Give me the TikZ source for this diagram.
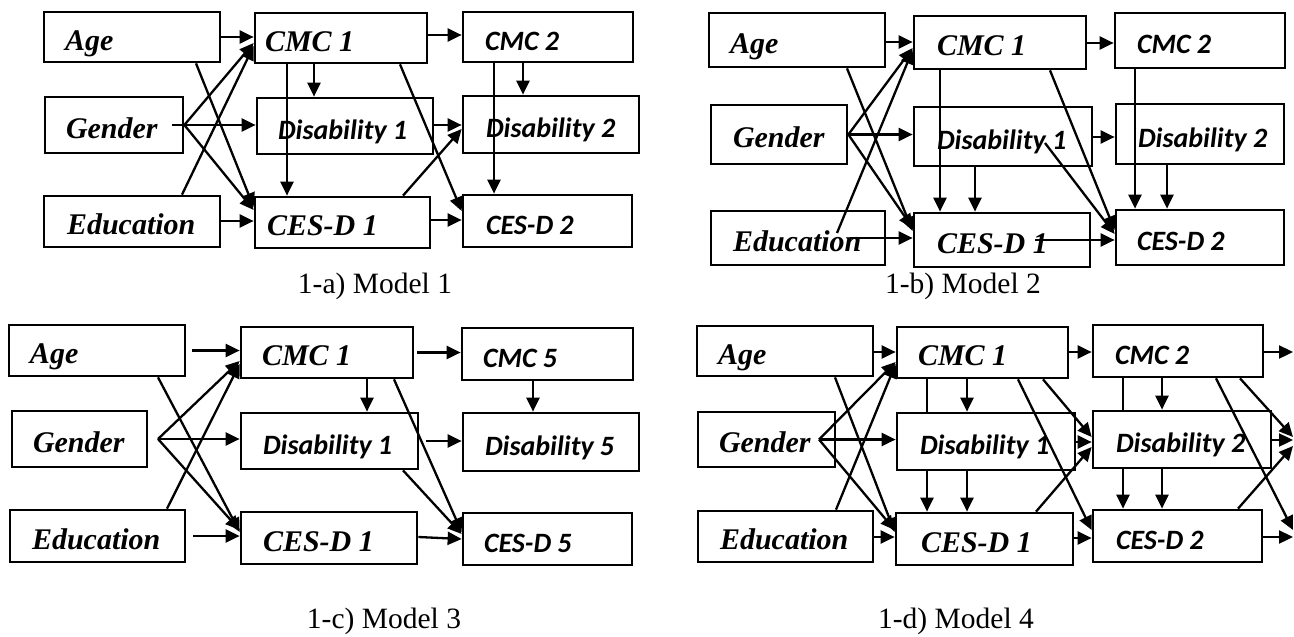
\documentclass[tikz,border=0pt]{standalone}
\usepackage{fontspec}
\usetikzlibrary{arrows.meta,calc}
\newfontfamily\calfont{Carlito}
\newfontfamily\capfont{Liberation Serif}
\newcommand\sfx{\calfont\bfseries\itshape\fontsize{28}{30}\selectfont}
\newcommand\srx{\capfont\bfseries\itshape\fontsize{30}{32}\selectfont}
\pgfdeclarelayer{bg}
\pgfsetlayers{bg,main}
\tikzset{
  box/.style={draw, line width=2.7pt, fill=white, rectangle, inner ysep=0pt,
    text height=26pt, text depth=0pt},
  arr/.style={line width=2.3pt, -{Triangle[length=14pt,width=13pt]}},
  captext/.style={font=\capfont\fontsize{29.5}{32}\selectfont, inner sep=0pt},
}
% name, x1, y1, x2, y2, inset, font, text
\newcommand\bx[8]{%
  \pgfmathsetmacro\bxw{#4-#2}%
  \pgfmathsetmacro\bxh{#5-#3}%
  \pgfmathsetmacro\bxt{#4-#2-2*#6}%
  \pgfmathsetmacro\bxcx{(#2+#4)/2}%
  \pgfmathsetmacro\bxcy{(#3+#5)/2}%
  \node[box, minimum width=\bxw pt, minimum height=\bxh pt, inner xsep=#6pt]
    (#1) at (\bxcx,\bxcy) {\makebox[\bxt pt][l]{#7#8}};}
\begin{document}
\begin{tikzpicture}[x=1pt,y=-1pt]
\useasboundingbox (0,0) rectangle (1294,637);
% ---------------- panel a
\bx{aAge}{44}{12}{220}{62}{21}{\srx}{Age}
\bx{aGen}{45}{97}{183}{153}{21}{\srx}{Gender}
\bx{aEdu}{44}{196}{220}{247}{23}{\srx}{Education}
\bx{aC1}{255}{13}{427}{63}{10}{\srx}{CMC 1}
\bx{aD1}{257}{98}{433}{154}{21}{\sfx}{Disability 1}
\bx{aE1}{255}{197}{430}{248}{12}{\srx}{CES-D 1}
\bx{aC2}{463}{12}{633}{62}{22}{\sfx}{CMC 2}
\bx{aD2}{463}{96}{639}{153}{23}{\sfx}{Disability 2}
\bx{aE2}{463}{195}{632}{247}{23}{\sfx}{CES-D 2}
\draw[arr] (aAge.east) -- (aAge.east -| aC1.west);
\draw[arr] (aGen.east) -- (aC1.west |- 0,43);
\draw[arr] (aGen.east -| 172,0) -- (aGen.east -| aD1.west);
\draw[arr] (aGen.east) -- (aE1.west |- 0,210);
\draw[arr] (aAge.south -| 196,0) -- (aE1.west |- 0,207);
\draw[arr] (aEdu.north -| 182,0) -- (aC1.west |- 0,46);
\draw[arr] (aEdu.east |- 0,221) -- (aE1.west |- 0,221);
\draw[arr] (aC1.east |- 0,35) -- (aC2.west |- 0,35);
\draw[arr] (aC1.south -| 314,0) -- (aD1.north -| 314,0);
\draw[arr] (aC1.south -| 287,0) -- (aE1.north -| 287,0);
\draw[arr] (aD1.east |- 0,125) -- (aD2.west |- 0,125);
\draw[arr] (aE1.north -| 403,0) -- (aD2.west |- 0,129);
\draw[arr] (aC1.south -| 400,0) -- (aE2.west |- 0,211);
\draw[arr] (aC2.south -| 523,0) -- (aD2.north -| 523,0);
\draw[arr] (aC2.south -| 494,0) -- (aE2.north -| 494,0);
\draw[arr] (aE1.east |- 0,220) -- (aE2.west |- 0,220);
\node[captext] (capA) at (375,286) {1-a) Model 1};
% ---------------- panel b
\bx{bAge}{709}{13}{885}{67}{21}{\srx}{Age}
\bx{bGen}{711}{105}{847}{164}{22}{\srx}{Gender}
\bx{bEdu}{711}{211}{885}{265}{22}{\srx}{Education}
\bx{bC1}{914}{16}{1086}{69}{23}{\srx}{CMC 1}
\bx{bD1}{914}{107}{1092}{166}{23}{\sfx}{Disability 1}
\bx{bE1}{914}{213}{1090}{267}{23}{\srx}{CES-D 1}
\bx{bC2}{1115}{13}{1285}{68}{22}{\sfx}{CMC 2}
\bx{bD2}{1116}{104}{1284}{164}{22}{\sfx}{Disability 2}
\bx{bE2}{1116}{210}{1284}{265}{21}{\sfx}{CES-D 2}
\draw[arr] (bAge.east |- 0,42) -- (bC1.west |- 0,42);
\draw[arr] (bGen.east) -- (bC1.west |- 0,48);
\draw[arr] (bGen.east) -- (bGen.east -| bD1.west);
\draw[arr] (bGen.east) -- (bE1.west |- 0,228);
\draw[arr] (bAge.south -| 847,0) -- (bE1.west |- 0,231);
\draw[arr] ($(bEdu.center)+(39,-5)$) -- (bC1.west |- 0,50);
\draw[arr] (bEdu.center -| 850,0) -- (bEdu.center -| bE1.west);
\draw[arr] (bC1.south -| 940,0) -- (bE1.north -| 940,0);
\draw[arr] (bD1.south -| 975,0) -- (bE1.north -| 975,0);
\draw[arr] (bC1.east |- 0,43) -- (bC2.west |- 0,43);
\draw[arr] (bD1.east |- 0,137) -- (bD2.west |- 0,137);
\draw[arr] (bC1.south -| 1050,0) -- (bE2.west |- 0,230);
\draw[arr] ($(bD1.center)+(42,6.5)$) -- (bE2.west |- 0,234);
\draw[arr] (bE1.center -| 1035,0) -- (bE1.center -| bE2.west);
\draw[arr] (bC2.south -| 1135,0) -- (bE2.north -| 1135,0);
\draw[arr] (bD2.south -| 1167,0) -- (bE2.north -| 1167,0);
\node[captext] (capB) at (963,286) {1-b) Model 2};
% ---------------- panel c
\bx{cAge}{9}{325}{185}{376}{21}{\srx}{Age}
\bx{cGen}{12}{411}{147}{467}{21}{\srx}{Gender}
\bx{cEdu}{10}{510}{185}{562}{22}{\srx}{Education}
\bx{cC1}{241}{327}{413}{378}{21}{\srx}{CMC 1}
\bx{cD1}{241}{413}{418}{469}{22}{\sfx}{Disability 1}
\bx{cE1}{241}{512}{417}{564}{22}{\srx}{CES-D 1}
\bx{cC5}{462}{328}{633}{380}{21}{\sfx}{CMC 5}
\bx{cD5}{463}{413}{639}{471}{22}{\sfx}{Disability 5}
\bx{cE5}{463}{513}{632}{565}{21}{\sfx}{CES-D 5}
\draw[arr] (cAge.east -| 192,0) -- (cAge.east -| cC1.west);
\draw[arr] (cGen.east -| 158,0) -- (cC1.west |- 0,361);
\draw[arr] (cGen.east -| 158,0) -- (cGen.east -| cD1.west);
\draw[arr] (cGen.east -| 158,0) -- (cE1.west |- 0,530);
\draw[arr] (cAge.south -| 158,0) -- (cE1.west |- 0,532);
\draw[arr] (cEdu.north -| 167,0) -- (cC1.west |- 0,364);
\draw[arr] (cEdu.east -| 193,0) -- (cEdu.east -| cE1.west);
\draw[arr] (cC1.east -| 417,0) -- (cC1.east -| cC5.west);
\draw[arr] (cC1.south -| 367,0) -- (cD1.north -| 367,0);
\draw[arr] (cD1.east -| 426,0) -- (cD1.east -| cD5.west);
\draw[arr] (cC5.south -| 533,0) -- (cD5.north -| 533,0);
\draw[arr] (cC1.south -| 394,0) -- (cE5.west |- 0,532);
\draw[arr] (cD1.south -| 403,0) -- (cE5.west |- 0,534);
\draw[arr] (cE1.east |- 0,537) -- (cE5.west |- 0,539);
\node[captext] (capC) at (384,621) {1-c) Model 3};
% ---------------- panel d
\bx{dAge}{697}{326}{873}{376}{21}{\srx}{Age}
\bx{dGen}{698}{412}{835}{467}{21}{\srx}{Gender}
\bx{dEdu}{698}{511}{873}{562}{22}{\srx}{Education}
\bx{dC1}{897}{327}{1068}{378}{21}{\srx}{CMC 1}
\bx{dD1}{897}{413}{1075}{470}{23}{\sfx}{Disability 1}
\bx{dE1}{896}{513}{1073}{565}{25}{\srx}{CES-D 1}
\bx{dC2}{1093}{325}{1263}{377}{22}{\sfx}{CMC 2}
\bx{dD2}{1093}{411}{1271}{468}{23}{\sfx}{Disability 2}
\bx{dE2}{1093}{510}{1262}{562}{23}{\sfx}{CES-D 2}
\coordinate (oC) at (1293,352);
\coordinate (oD) at (1293,440);
\coordinate (oE) at (1293,537);
\coordinate (oDa) at (1293,437);
\coordinate (oDb) at (1293,446);
\coordinate (oEa) at (1293,530);
\begin{pgfonlayer}{bg}
\draw[arr] (dC1.south -| 927,0) -- (dE1.north -| 927,0);
\draw[arr] (dC2.south -| 1123,0) -- (dE2.north -| 1123,0);
\end{pgfonlayer}
\draw[arr] (dAge.east |- 0,352) -- (dC1.west |- 0,352);
\draw[arr] (dGen.center -| 819,0) -- (dC1.west |- 0,362);
\draw[arr] (dGen.center -| 819,0) -- (dGen.center -| dD1.west);
\draw[arr] (dGen.center -| 819,0) -- (dE1.west |- 0,530);
\draw[arr] (dAge.south -| 835,0) -- (dE1.west |- 0,532);
\draw[arr] (dEdu.north -| 836,0) -- (dC1.west |- 0,364);
\draw[arr] (dEdu.east |- 0,537) -- (dE1.west |- 0,537);
\draw[arr] (dC1.south -| 967,0) -- (dD1.north -| 967,0);
\draw[arr] (dD1.south -| 967,0) -- (dE1.north -| 967,0);
\draw[arr] (dC1.east |- 0,352) -- (dC2.west |- 0,352);
\draw[arr] (dC1.south -| 1018,0) -- (dE2.west |- 0,530);
\draw[arr] (dC1.south -| 1043,0) -- (dD2.west |- 0,437);
\draw[arr] (dD1.east |- 0,442) -- (dD2.west |- 0,442);
\draw[arr] (dE1.north -| 1036,0) -- (dD2.west |- 0,447);
\draw[arr] (dE1.east |- 0,538) -- (dE2.west |- 0,538);
\draw[arr] (dC2.south -| 1162,0) -- (dD2.north -| 1162,0);
\draw[arr] (dD2.south -| 1162,0) -- (dE2.north -| 1162,0);
\draw[arr] (dC2.east |- oC) -- (oC);
\draw[arr] (dC2.south -| 1216,0) -- (oEa);
\draw[arr] (dC2.south -| 1240,0) -- (oDa);
\draw[arr] (dD2.east |- oD) -- (oD);
\draw[arr] (dE2.north -| 1238,0) -- (oDb);
\draw[arr] (dE2.east |- oE) -- (oE);
\node[captext] (capD) at (956,621) {1-d) Model 4};
\end{tikzpicture}
\end{document}
